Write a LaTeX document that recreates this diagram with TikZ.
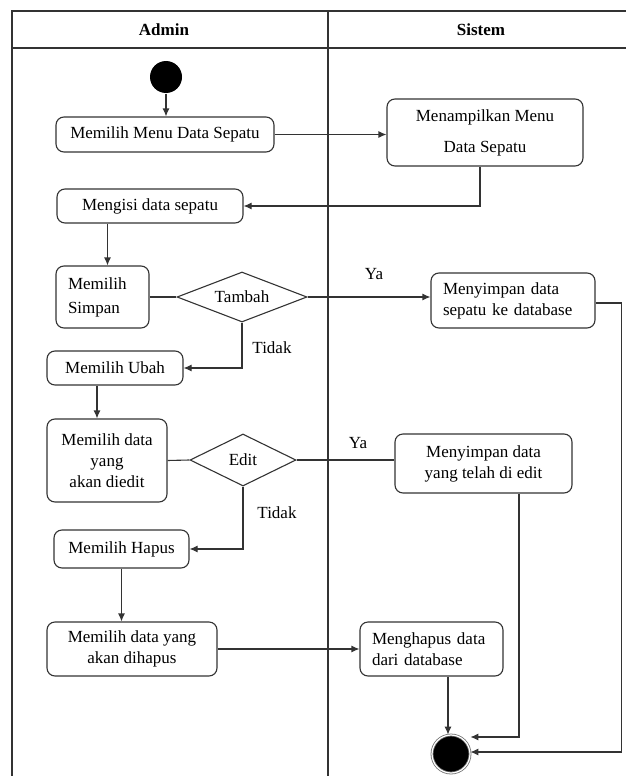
\documentclass[tikz,border=0pt]{standalone}
\usepackage{fontspec}
\setmainfont{Liberation Serif}
\usetikzlibrary{arrows.meta,shapes.geometric}

\begin{document}
\begin{tikzpicture}[x=1pt,y=-1pt,line width=1.1pt,
        lane/.style={draw=black!80, line width=1.2pt},
        head/.style={font=\fontsize{17}{21}\selectfont\bfseries},
        lbl/.style={font=\fontsize{17}{21}\selectfont},
        act/.style={draw=black!80, rounded corners=8pt, align=center, inner sep=0pt, font=\fontsize{17}{21}\selectfont},
        actleft/.style={act, align=left},
        choice/.style={draw=black!80, diamond, aspect=2.5, inner sep=0pt, font=\fontsize{17}{21}\selectfont},
        flow/.style={draw=black!80, -{Latex[length=8pt,width=7pt]}},
        link/.style={draw=black!80}]

    \useasboundingbox (0,0) rectangle (626,776);

    % Swimlanes
    \draw[lane] (12,776) -- (12,11) -- (626,11);
    \draw[lane] (12,48) -- (626,48);
    \draw[lane] (328,11) -- (328,776);

    % Lane titles
    \foreach \name/\x/\txt in {admin/164/Admin, sistem/481/Sistem}
        \node[head] (\name) at (\x,30) {\txt};

    % Start and end
    \node[circle, fill=black, minimum size=32pt, inner sep=0pt] (start) at (166,77) {};
    \node[circle, fill=black, draw=black!55, double=white, double distance=1.2pt, line width=0.8pt, minimum size=38pt, inner sep=0pt] (finish) at (451,754) {};

    % Admin activities
    \node[act, minimum width=218pt, minimum height=35pt] (menu) at (165,134.5) {Memilih Menu Data Sepatu};
    \node[act, minimum width=186pt, minimum height=34pt] (isi) at (150,206) {Mengisi data sepatu};
    \node[actleft, text width=69pt, minimum width=93pt, minimum height=62pt] (simpan) at (102.5,297) {Memilih\\[3pt]Simpan};
    \node[act, minimum width=136pt, minimum height=34pt] (ubah) at (115,368) {Memilih Ubah};
    \node[act, minimum width=120pt, minimum height=83pt] (pilihEdit) at (107,460.5) {Memilih data\\yang\\akan diedit};
    \node[act, minimum width=135pt, minimum height=38pt] (hapus) at (121.5,549) {Memilih Hapus};
    \node[act, minimum width=170pt, minimum height=54pt] (pilihHapus) at (132,649) {Memilih data yang\\akan dihapus};

    % Decisions
    \node[choice, minimum width=130pt, minimum height=50pt] (tambah) at (242,297) {Tambah};
    \node[choice, minimum width=106pt, minimum height=52pt] (edit) at (243,460) {Edit};

    % Sistem activities
    \node[act, minimum width=196pt, minimum height=67pt] (tampil) at (485,132.5) {Menampilkan Menu\\[10pt]Data Sepatu};
    \node[actleft, text width=140pt, minimum width=164pt, minimum height=55pt] (sepatuDb) at (513,300.5) {Menyimpan data\\sepatu ke database};
    \node[act, minimum width=177pt, minimum height=59pt] (simpanEdit) at (483.5,463.5) {Menyimpan data\\yang telah di edit};
    \node[actleft, text width=119pt, minimum width=143pt, minimum height=54pt] (hapusDb) at (431.5,649) {Menghapus data\\dari database};

    % Branch labels
    \node[lbl] (yaTambah) at (374,274) {Ya};
    \node[lbl] (tidakTambah) at (272,348) {Tidak};
    \node[lbl] (yaEdit) at (358,443) {Ya};
    \node[lbl] (tidakEdit) at (277,513) {Tidak};

    % Flows
    \draw[flow] (start) -- (start |- menu.north);
    \draw[flow] (menu.east) -- (menu.east -| tampil.west);
    \draw[flow] ([xshift=-5pt]tampil.south) |- (isi.east);
    \draw[flow] ([xshift=5pt]simpan.north |- isi.south) -- ([xshift=5pt]simpan.north);
    \draw[link] (simpan.east) -- (tambah.west);
    \draw[flow] (tambah.east) -- (sepatuDb.west |- tambah.east);
    \draw[flow] (tambah.south) |- (ubah.east);
    \draw[flow] ([xshift=-10pt]pilihEdit.north |- ubah.south) -- ([xshift=-10pt]pilihEdit.north);
    \draw[link] (pilihEdit.east) -- (edit.west);
    \draw[link] (edit.east) -- (simpanEdit.west |- edit.east);
    \draw[flow] (edit.south) |- (hapus.east);
    \draw[flow] (hapus.south) -- (hapus.south |- pilihHapus.north);
    \draw[flow] (pilihHapus.east) -- (hapusDb.west);
    \draw[flow] ([xshift=-3pt]finish.north |- hapusDb.south) -- ([xshift=-3pt]finish.north);
    \draw[flow] ([xshift=35.5pt]simpanEdit.south) |- ([yshift=17pt]finish.east);
    \draw[flow] ([yshift=-2.5pt]sepatuDb.east) -- ++(26,0) |- ([yshift=2pt]finish.east);

\end{tikzpicture}
\end{document}
